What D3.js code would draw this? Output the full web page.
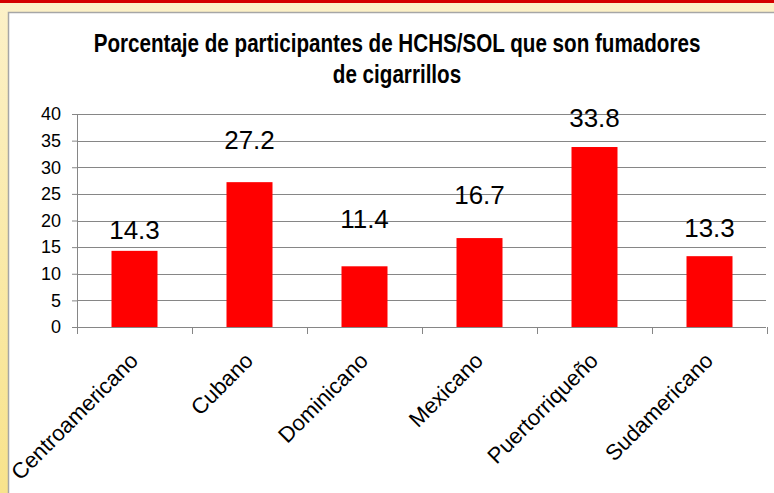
<!DOCTYPE html>
<meta charset="utf-8">
<style>
  body { margin: 0; background: #fff; }
  text { font-family: "Liberation Sans", Arial, sans-serif; fill: #000; }
</style>
<body>
<div id="chart"></div>
<script src="https://d3js.org/d3.v7.min.js"></script>
<script>

// Data
var categories = ["Centroamericano", "Cubano", "Dominicano", "Mexicano", "Puertorriqueño", "Sudamericano"];
var values = [14.3, 27.2, 11.4, 16.7, 33.8, 13.3];
// where each value label sits, in chart units (labels were placed by hand)
var labelAt = [16.5, 33.4, 18.6, 23.1, 37.6, 16.9];
var yTicks = [0, 5, 10, 15, 20, 25, 30, 35, 40];
var titleLines = ["Porcentaje de participantes de HCHS/SOL que son fumadores", "de cigarrillos"];

var W = 774, H = 493;
var margin = {top: 114, right: 7, bottom: 166, left: 77},
    width = W - margin.left - margin.right,
    height = H - margin.top - margin.bottom;

var svg = d3.select("#chart")
  .append("svg")
    .attr("width", W)
    .attr("height", H);

// slide frame: yellow band with a red stripe on top
var grad = svg.append("defs").append("linearGradient")
    .attr("id", "frame").attr("x1", 0).attr("y1", 0).attr("x2", 0).attr("y2", 1);
grad.append("stop").attr("offset", "0%").attr("stop-color", "#fcf1c8");
grad.append("stop").attr("offset", "100%").attr("stop-color", "#f8e38c");
svg.append("rect").attr("width", W).attr("height", H).attr("fill", "url(#frame)");
svg.append("rect").attr("width", W).attr("height", 3).attr("fill", "#d40000");
svg.append("rect")
    .attr("x", 8.5).attr("y", 12.5)
    .attr("width", W).attr("height", H)
    .attr("fill", "#fff")
    .attr("stroke", "#a6a6a6")
    .attr("stroke-width", 1.5);

// title: bold 25px, squeezed horizontally like the narrow font of the original
var titleG = svg.append("g");
var title = titleG.selectAll("text")
  .data(titleLines)
  .enter().append("text")
    .attr("x", 0)
    .attr("y", function(d, i) { return 52 + i * 31; })
    .attr("text-anchor", "middle")
    .style("font-weight", "bold")
    .style("font-size", "25px")
    .text(function(d) { return d; });
var sx = Math.min(1, 607 / title.node().getComputedTextLength());
titleG.attr("transform", "translate(397,0) scale(" + sx + ",1)");

var g = svg.append("g")
    .attr("transform", "translate(" + margin.left + "," + margin.top + ")");

// scales
var x = d3.scaleBand()
    .domain(categories)
    .range([0, width])
    .paddingInner(0.6)
    .paddingOuter(0.3);
var xCell = d3.scaleBand().domain(categories).range([0, width]);
var y = d3.scaleLinear()
    .domain([0, 40])
    .range([height, 0]);

// gridlines
g.append("g").selectAll("line")
  .data(yTicks)
  .enter().append("line")
    .attr("x1", 0).attr("x2", width - 1)
    .attr("y1", function(d) { return Math.round(y(d)) + 0.5; })
    .attr("y2", function(d) { return Math.round(y(d)) + 0.5; })
    .attr("stroke", "#868686")
    .attr("stroke-width", 1);

// y axis
var yAxis = g.append("g")
    .call(d3.axisLeft(y).tickValues(yTicks).tickSize(5).tickPadding(11).tickSizeOuter(0));
yAxis.select(".domain").attr("stroke", "#868686");
yAxis.selectAll(".tick line").attr("stroke", "#868686");
yAxis.selectAll(".tick text")
    .style("font-size", "18px")
    .style("font-family", "'Liberation Sans', Arial, sans-serif");

// x axis ticks at the category boundaries
var bounds = categories.map(function(c) { return xCell(c); }).concat([width]);
g.append("g").selectAll("line")
  .data(bounds)
  .enter().append("line")
    .attr("x1", function(d) { return Math.round(d) + 0.5; })
    .attr("x2", function(d) { return Math.round(d) + 0.5; })
    .attr("y1", height)
    .attr("y2", height + 7)
    .attr("stroke", "#868686");

// bars
g.append("g").selectAll("rect")
  .data(values)
  .enter().append("rect")
    .attr("x", function(d, i) { return x(categories[i]); })
    .attr("width", x.bandwidth())
    .attr("y", function(d) { return y(d); })
    .attr("height", function(d) { return height - y(d); })
    .attr("fill", "#ff0000");

// value labels
g.append("g").selectAll("text")
  .data(values)
  .enter().append("text")
    .attr("x", function(d, i) { return x(categories[i]) + x.bandwidth() / 2; })
    .attr("y", function(d, i) { return y(labelAt[i]); })
    .attr("text-anchor", "middle")
    .style("font-size", "26px")
    .text(function(d) { return d.toFixed(1); });

// category labels, rotated
g.append("g").selectAll("text")
  .data(categories)
  .enter().append("text")
    .attr("text-anchor", "end")
    .attr("transform", function(d) {
      return "translate(" + (x(d) + x.bandwidth() / 2 + 5) + "," + (height + 35) + ") rotate(-45)";
    })
    .style("font-size", "22px")
    .text(function(d) { return d; });

</script>
</body>
